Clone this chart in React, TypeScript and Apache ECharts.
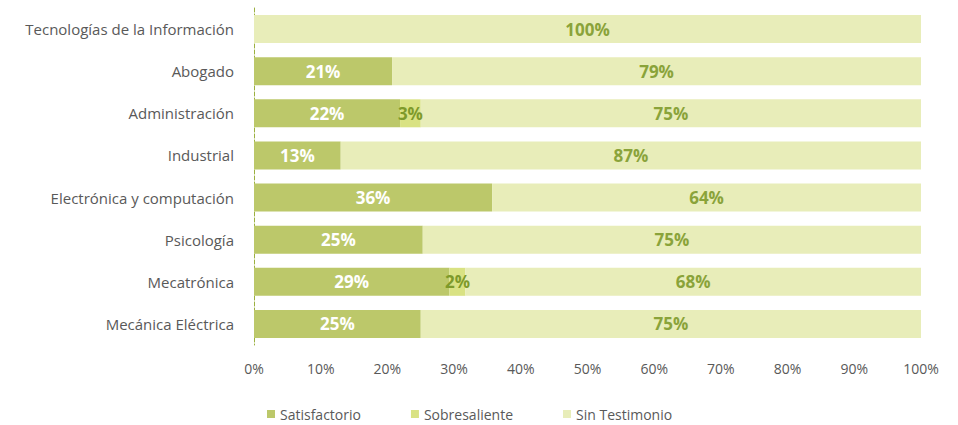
import React, { useEffect, useRef } from "react";
import * as echarts from "echarts";

const categories = [
  "Tecnologías de la Información",
  "Abogado",
  "Administración",
  "Industrial",
  "Electrónica y computación",
  "Psicología",
  "Mecatrónica",
  "Mecánica Eléctrica",
];
const satisfactorio = [0, 20.7, 21.9, 13, 35.7, 25.3, 29.3, 25];
const sobresaliente = [0, 0, 3.1, 0, 0, 0, 2.4, 0];
const sinTestimonio = [100, 79.3, 75, 87, 64.3, 74.7, 68.3, 75];
const xTicks = [0, 10, 20, 30, 40, 50, 60, 70, 80, 90, 100];

const FONT = "'Open Sans', Lato, sans-serif";

export default function App() {
  const ref = useRef<HTMLDivElement>(null);
  useEffect(() => {
    const chart = echarts.init(ref.current!, undefined, { renderer: "svg" });
    const labelFmt = (p: any) => (p.value > 0 ? Math.round(p.value) + "%" : "");
    const mk = (name: string, data: number[], color: string, labelColor: string) => ({
      name,
      type: "bar",
      stack: "total",
      data,
      barWidth: 28,
      itemStyle: { color },
      label: {
        show: true,
        position: "inside",
        formatter: labelFmt,
        color: labelColor,
        fontFamily: FONT,
        fontWeight: "bold",
        fontSize: 17,
      },
    });
    chart.setOption({
      animation: false,
      grid: { left: 254, right: 37, top: 8, bottom: 80, containLabel: false },
      legend: {
        left: 262,
        top: 402,
        itemWidth: 8,
        itemHeight: 8,
        itemGap: 50,
        icon: "rect",
        textStyle: { fontFamily: FONT, fontSize: 14, color: "#595959" },
        data: ["Satisfactorio", "Sobresaliente", "Sin Testimonio"],
      },
      xAxis: {
        type: "value",
        min: 0,
        max: 100,
        interval: 10,
        axisLine: { show: false },
        axisTick: { show: false },
        splitLine: { show: false },
        axisLabel: {
          formatter: (v: number) => (xTicks.includes(v) ? v + "%" : ""),
          fontFamily: FONT,
          fontSize: 14,
          color: "#595959",
          margin: 16,
        },
      },
      yAxis: {
        type: "category",
        data: categories,
        inverse: true,
        axisLine: { show: true, lineStyle: { color: "#9BB040", type: "dashed", width: 1 } },
        axisTick: { show: false },
        axisLabel: { fontFamily: FONT, fontSize: 15, color: "#595959", margin: 20 },
      },
      series: [
        mk("Satisfactorio", satisfactorio, "#BCC86A", "#FFFFFF"),
        mk("Sobresaliente", sobresaliente, "#D9E283", "#7E9A2A"),
        mk("Sin Testimonio", sinTestimonio, "#E8EDB9", "#8AA33A"),
      ],
    });
    return () => chart.dispose();
  }, []);
  return (
    <div
      ref={ref}
      style={{ position: "absolute", left: 0, top: 0, width: 958, height: 425 }}
    />
  );
}
